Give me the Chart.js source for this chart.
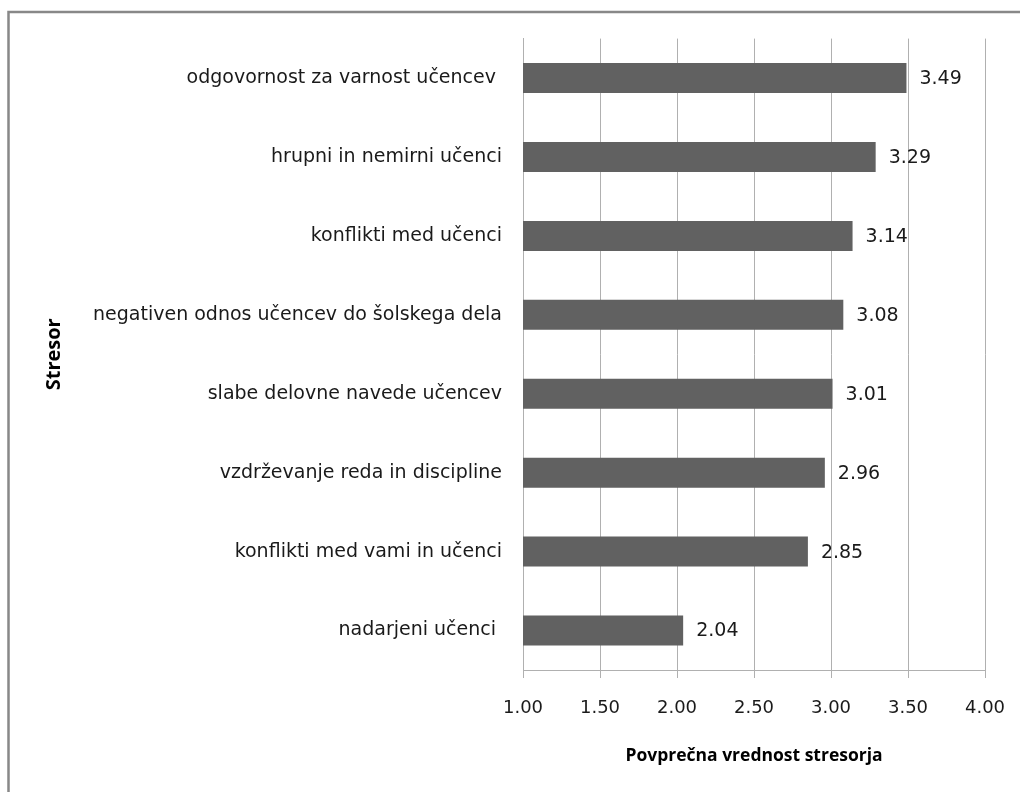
<!DOCTYPE html>
<html>
<head>
<meta charset="utf-8">
<script src="https://cdn.jsdelivr.net/npm/chart.js@4"></script>
<style>
  html, body { margin: 0; padding: 0; background: #ffffff; }
  #wrap { width: 1020px; height: 792px; position: relative; }
</style>
</head>
<body>
<div id="wrap"><canvas id="chart" width="1020" height="792"></canvas></div>
<script>
// Stressors (top to bottom) and their mean scores
const categories = [
  'odgovornost za varnost učencev ',
  'hrupni in nemirni učenci',
  'konflikti med učenci',
  'negativen odnos učencev do šolskega dela',
  'slabe delovne navede učencev',
  'vzdrževanje reda in discipline',
  'konflikti med vami in učenci',
  'nadarjeni učenci '
];
const meanValues = [3.49, 3.29, 3.14, 3.08, 3.01, 2.96, 2.85, 2.04];
const xTickValues = [1.00, 1.50, 2.00, 2.50, 3.00, 3.50, 4.00];

const xTitle = 'Povprečna vrednost stresorja';
const yTitle = 'Stresor';

const FONT = 'DejaVu Sans';
const TITLE_FONT = 'Open Sans';

// Grey frame along the top and left edge
const framePlugin = {
  id: 'frame',
  beforeDraw(chart) {
    const ctx = chart.ctx;
    ctx.save();
    ctx.fillStyle = '#ffffff';
    ctx.fillRect(0, 0, chart.width, chart.height);
    ctx.strokeStyle = '#888888';
    ctx.lineWidth = 2.5;
    ctx.beginPath();
    ctx.moveTo(8.5, chart.height);
    ctx.lineTo(8.5, 12);
    ctx.lineTo(chart.width, 12);
    ctx.stroke();
    ctx.restore();
  }
};

// Value label to the right of each bar
const valueLabels = {
  id: 'valueLabels',
  afterDatasetsDraw(chart) {
    const ctx = chart.ctx;
    const meta = chart.getDatasetMeta(0);
    ctx.save();
    ctx.font = '19px "' + FONT + '"';
    ctx.fillStyle = '#1a1a1a';
    ctx.textAlign = 'left';
    ctx.textBaseline = 'middle';
    meta.data.forEach((bar, i) => {
      ctx.fillText(meanValues[i].toFixed(2), bar.x + 13, bar.y + 1);
    });
    ctx.restore();
  }
};

new Chart(document.getElementById('chart'), {
  type: 'bar',
  data: {
    labels: categories,
    datasets: [{
      data: meanValues,
      backgroundColor: '#616161',
      borderWidth: 0,
      barPercentage: 0.76,
      categoryPercentage: 0.5
    }]
  },
  options: {
    indexAxis: 'y',
    responsive: false,
    animation: false,
    layout: { padding: { left: 26, right: 35, top: 38.6, bottom: 20 } },
    plugins: {
      legend: { display: false },
      tooltip: { enabled: false }
    },
    scales: {
      x: {
        min: 1,
        max: 4,
        afterBuildTicks(scale) {
          scale.ticks = xTickValues.map(v => ({ value: v }));
        },
        afterFit(scale) {
          scale.height = 102;
          scale.paddingLeft = 0;
          scale.paddingRight = 0;
        },
        grid: {
          color: '#b0b0b0',
          lineWidth: 1,
          drawTicks: true,
          tickLength: 8,
          tickColor: '#b0b0b0'
        },
        border: { display: true, color: '#b0b0b0', width: 1 },
        ticks: {
          padding: 20,
          color: '#1a1a1a',
          font: { family: FONT, size: 18 },
          maxRotation: 0,
          callback: (v) => Number(v).toFixed(2)
        },
        title: {
          display: true,
          text: xTitle,
          color: '#000000',
          font: { family: TITLE_FONT, size: 17.5, weight: 'bold' },
          padding: { top: 0, bottom: 5 }
        }
      },
      y: {
        afterFit(scale) { scale.width = 523 - 26; },
        grid: { display: false, drawTicks: false },
        border: { display: true, color: '#b0b0b0', width: 1 },
        ticks: {
          padding: 21,
          color: '#1a1a1a',
          font: { family: FONT, size: 19 }
        },
        title: {
          display: true,
          text: yTitle,
          color: '#000000',
          font: { family: TITLE_FONT, size: 20, weight: 'bold' },
          padding: { top: 16, bottom: 0 }
        }
      }
    }
  },
  plugins: [framePlugin, valueLabels]
});
</script>
</body>
</html>
